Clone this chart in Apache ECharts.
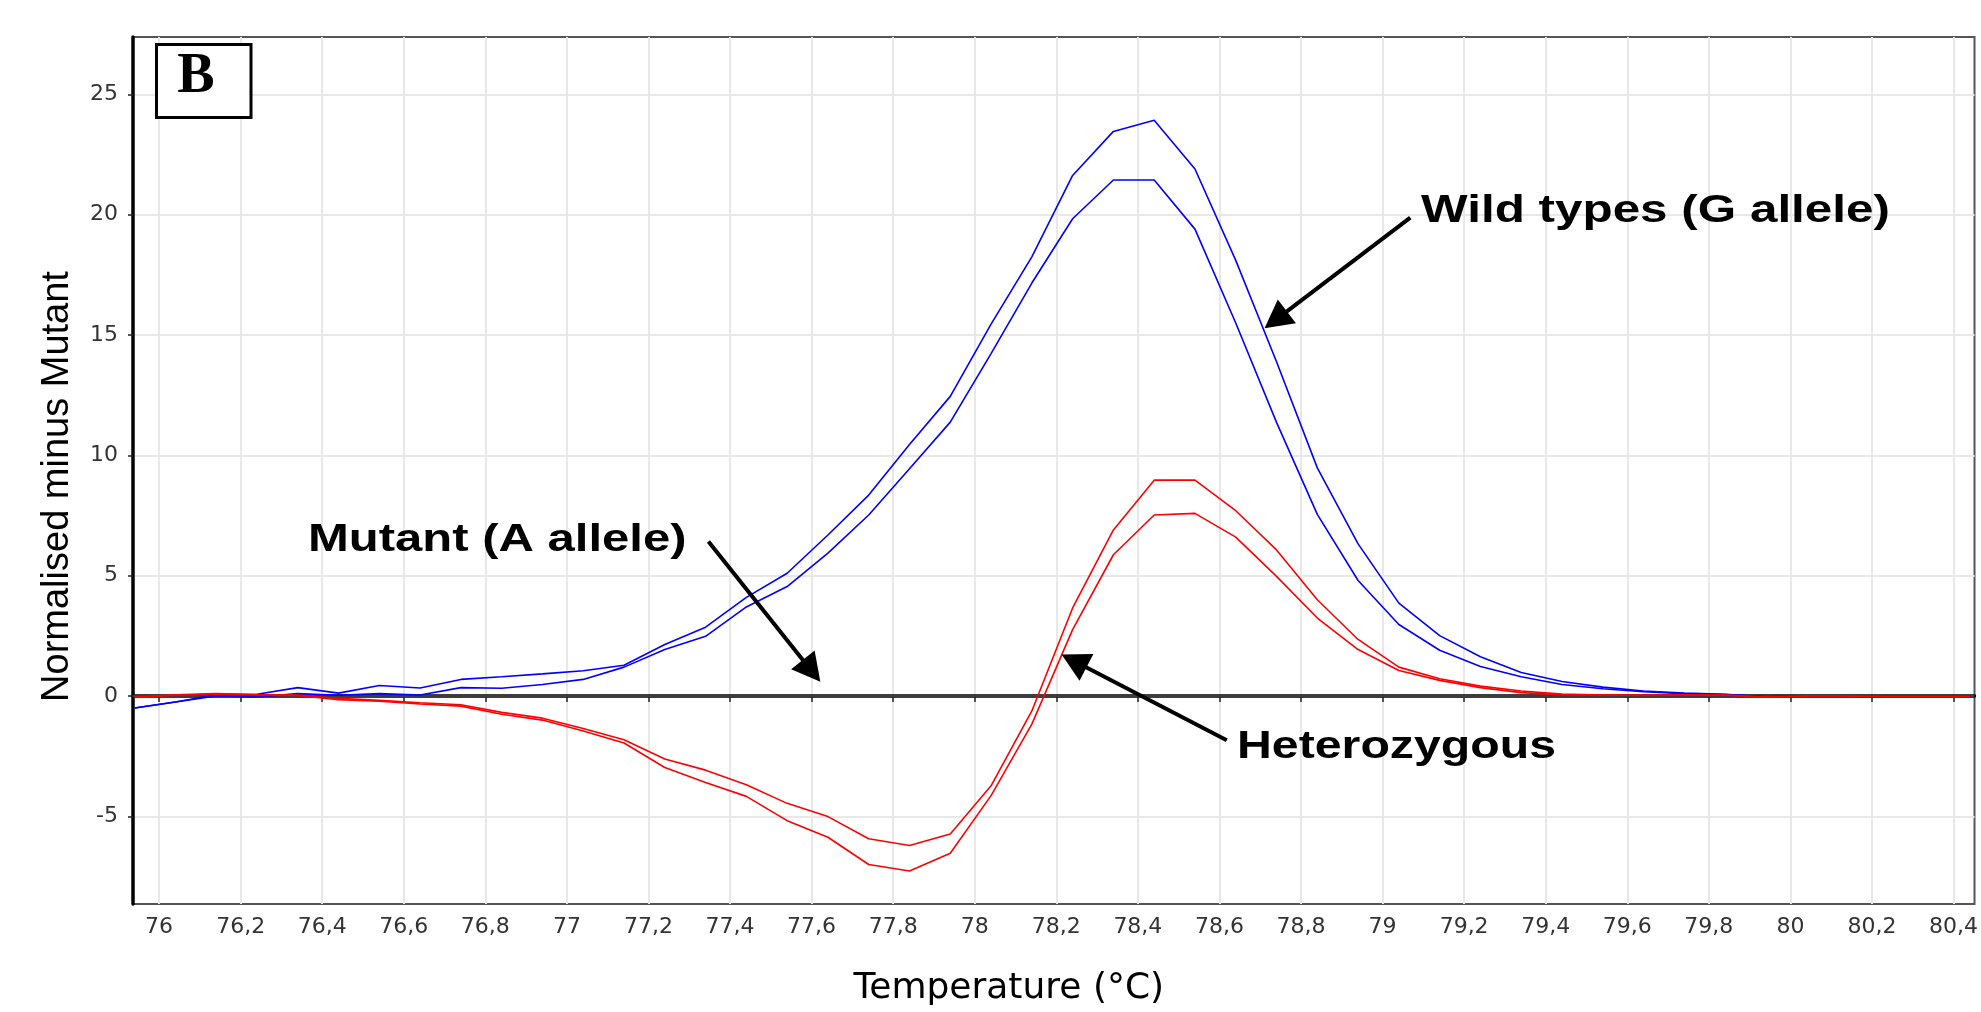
<!DOCTYPE html>
<html>
<head>
<meta charset="utf-8">
<script src="https://cdn.jsdelivr.net/npm/echarts@6/dist/echarts.min.js"></script>
<style>
    html, body { margin: 0; padding: 0; background: #fff; }
    #myChart { width: 1981px; height: 1012px; }
</style>
</head>
<body>
<div id="myChart"></div>
<script>
// temperature points, one every 0.1 °C
let temps = [75.94, 76.04, 76.14, 76.24, 76.34, 76.44, 76.54, 76.64, 76.74, 76.84,
             76.94, 77.04, 77.14, 77.24, 77.34, 77.44, 77.54, 77.64, 77.74, 77.84,
             77.94, 78.04, 78.14, 78.24, 78.34, 78.44, 78.54, 78.64, 78.74, 78.84,
             78.94, 79.04, 79.14, 79.24, 79.34, 79.44, 79.54, 79.64, 79.74, 79.84,
             79.94, 80.04, 80.14, 80.24, 80.34, 80.44]

// wild types (G allele), blue
let wild1 = [-0.5, -0.25, 0.05, 0.07, 0.35, 0.12, 0.44, 0.33, 0.69, 0.8,
             0.92, 1.05, 1.28, 2.14, 2.86, 4.1, 5.1, 6.69, 8.35, 10.45,
             12.45, 15.45, 18.25, 21.63, 23.46, 23.92, 21.9, 18.1, 13.89, 9.48,
             6.32, 3.86, 2.51, 1.63, 0.98, 0.6, 0.37, 0.21, 0.12, 0.07,
             -0.03, 0, 0, -0.04, -0.04, -0.04]
let wild2 = [-0.5, -0.25, 0.0, -0.04, 0.1, 0.03, 0.1, 0.04, 0.35, 0.32,
             0.48, 0.69, 1.2, 1.93, 2.48, 3.7, 4.55, 5.94, 7.52, 9.44,
             11.38, 14.23, 17.16, 19.83, 21.44, 21.44, 19.4, 15.5, 11.37, 7.55,
             4.8, 2.97, 1.9, 1.23, 0.8, 0.48, 0.3, 0.18, 0.1, 0.06,
             -0.03, 0, 0, -0.04, -0.04, -0.04]

// heterozygous, red
let het1 = [-0.04, 0.05, 0.1, 0.06, 0.04, -0.1, -0.18, -0.28, -0.36, -0.68,
            -0.92, -1.35, -1.82, -2.62, -3.08, -3.69, -4.46, -5.01, -5.93, -6.21,
            -5.73, -3.73, -0.62, 3.66, 6.9, 8.97, 8.97, 7.7, 6.07, 4.0,
            2.35, 1.2, 0.72, 0.41, 0.21, 0.08, 0.04, 0.03, 0.05, 0.04,
            -0.04, 0, 0, -0.03, -0.03, -0.03]
let het2 = [-0.06, 0.03, 0.08, 0.04, 0.02, -0.15, -0.22, -0.33, -0.42, -0.76,
            -1.0, -1.45, -1.95, -2.97, -3.59, -4.17, -5.18, -5.87, -7.0, -7.27,
            -6.53, -4.14, -1.17, 2.76, 5.87, 7.52, 7.59, 6.6, 4.97, 3.24,
            1.93, 1.06, 0.65, 0.35, 0.14, 0.05, 0.04, 0.02, 0.04, 0.03,
            -0.04, 0, 0, -0.03, -0.03, -0.03]

// tick labels
let xTicks = [76, 76.2, 76.4, 76.6, 76.8, 77, 77.2, 77.4, 77.6, 77.8, 78,
              78.2, 78.4, 78.6, 78.8, 79, 79.2, 79.4, 79.6, 79.8, 80, 80.2, 80.4]
let yTicks = [-5, 0, 5, 10, 15, 20, 25]

let myChart = echarts.init(document.getElementById('myChart'))

function pairs(ys) {
    return temps.map((t, i) => [t, ys[i]])
}

let tickFont = { color: '#333', fontFamily: 'DejaVu Sans', fontSize: 22 }
let noteFont = 'bold 38px "Liberation Sans", Arial, sans-serif'

let option = {
    animation: false,
    textStyle: { fontFamily: 'Liberation Sans' },
    grid: {
        left: 133,
        right: -2,
        top: 37,
        bottom: 105,
        show: true,
        borderColor: '#555',
        borderWidth: 2
    },
    xAxis: {
        type: 'value',
        min: 75.936,
        max: 80.4515,
        splitNumber: 22,
        name: 'Temperature (°C)',
        nameLocation: 'middle',
        nameGap: 67,
        nameTextStyle: {
            color: '#000',
            fontFamily: 'DejaVu Sans',
            fontSize: 36,
            padding: [0, 90, 0, 0]
        },
        axisLine: { lineStyle: { color: '#000', width: 3.5 } },
        axisTick: { show: true, length: 6, customValues: xTicks, lineStyle: { color: '#222', width: 1.5 } },
        axisLabel: Object.assign({
            margin: 12,
            customValues: xTicks,
            formatter: v => String(Math.round(v * 10) / 10).replace('.', ',')
        }, tickFont),
        splitLine: { show: true, lineStyle: { color: '#e8e8e8', width: 2 } }
    },
    yAxis: {
        type: 'value',
        min: -8.642,
        max: 27.383,
        splitNumber: 7,
        name: 'Normalised minus Mutant',
        nameLocation: 'middle',
        nameGap: 56,
        nameTextStyle: {
            color: '#000',
            fontFamily: 'Liberation Sans',
            fontSize: 38,
            padding: [0, 32, 0, 0]
        },
        axisLine: { show: true, lineStyle: { color: '#000', width: 3.5 } },
        axisTick: { show: true, length: 5, customValues: yTicks, lineStyle: { color: '#222', width: 1.5 } },
        axisLabel: Object.assign({ margin: 15, customValues: yTicks }, tickFont),
        splitLine: { show: true, lineStyle: { color: '#e8e8e8', width: 2 } }
    },
    series: [
        {
            name: 'Wild type 1',
            type: 'line',
            data: pairs(wild1),
            showSymbol: false,
            lineStyle: { color: '#0000ff', width: 1.6 },
            itemStyle: { color: '#0000ff' },
            // zero line
            markLine: {
                silent: true,
                z: 1,
                symbol: 'none',
                label: { show: false },
                lineStyle: { color: '#505050', width: 1.6, type: 'solid' },
                data: [{ yAxis: 0 }]
            }
        },
        {
            name: 'Wild type 2',
            type: 'line',
            data: pairs(wild2),
            showSymbol: false,
            lineStyle: { color: '#0000ff', width: 1.6 },
            itemStyle: { color: '#0000ff' }
        },
        {
            name: 'Heterozygous 1',
            type: 'line',
            data: pairs(het1),
            showSymbol: false,
            lineStyle: { color: '#ff0000', width: 1.6 },
            itemStyle: { color: '#ff0000' }
        },
        {
            name: 'Heterozygous 2',
            type: 'line',
            data: pairs(het2),
            showSymbol: false,
            lineStyle: { color: '#ff0000', width: 1.6 },
            itemStyle: { color: '#ff0000' },
            // arrows pointing to the curves
            markLine: {
                silent: true,
                z: 10,
                symbol: ['none', 'triangle'],
                symbolSize: [30, 28],
                label: { show: false },
                itemStyle: { color: '#000' },
                lineStyle: { color: '#000', width: 4, type: 'solid' },
                emphasis: { disabled: true },
                data: [
                    [{ coord: [79.068, 19.876] }, { coord: [78.738, 15.631] }],
                    [{ coord: [77.347, 6.418] }, { coord: [77.600, 1.043] }],
                    [{ coord: [78.618, -1.839] }, { coord: [78.2435, 1.458] }]
                ]
            }
        }
    ],
    graphic: [
        {
            type: 'rect', z: 100,
            shape: { x: 156.5, y: 44.5, width: 94.5, height: 73 },
            style: { fill: '#fff', stroke: '#000', lineWidth: 3 }
        },
        {
            type: 'text', z: 101, x: 196, y: 78,
            style: {
                text: 'B', font: 'bold 56px "Liberation Serif", serif', fill: '#000',
                align: 'center', verticalAlign: 'middle', textAlign: 'center', textVerticalAlign: 'middle'
            }
        },
        {
            type: 'text', z: 101, x: 1421, y: 212, scaleX: 1.3,
            style: {
                text: 'Wild types (G allele)', font: noteFont, fill: '#000',
                align: 'left', verticalAlign: 'middle', textAlign: 'left', textVerticalAlign: 'middle'
            }
        },
        {
            type: 'text', z: 101, x: 308, y: 541, scaleX: 1.29,
            style: {
                text: 'Mutant (A allele)', font: noteFont, fill: '#000',
                align: 'left', verticalAlign: 'middle', textAlign: 'left', textVerticalAlign: 'middle'
            }
        },
        {
            type: 'text', z: 101, x: 1237, y: 748, scaleX: 1.27,
            style: {
                text: 'Heterozygous', font: noteFont, fill: '#000',
                align: 'left', verticalAlign: 'middle', textAlign: 'left', textVerticalAlign: 'middle'
            }
        }
    ]
}
myChart.setOption(option)

window.addEventListener('resize', () => {
    myChart.resize()
})
</script>
</body>
</html>
